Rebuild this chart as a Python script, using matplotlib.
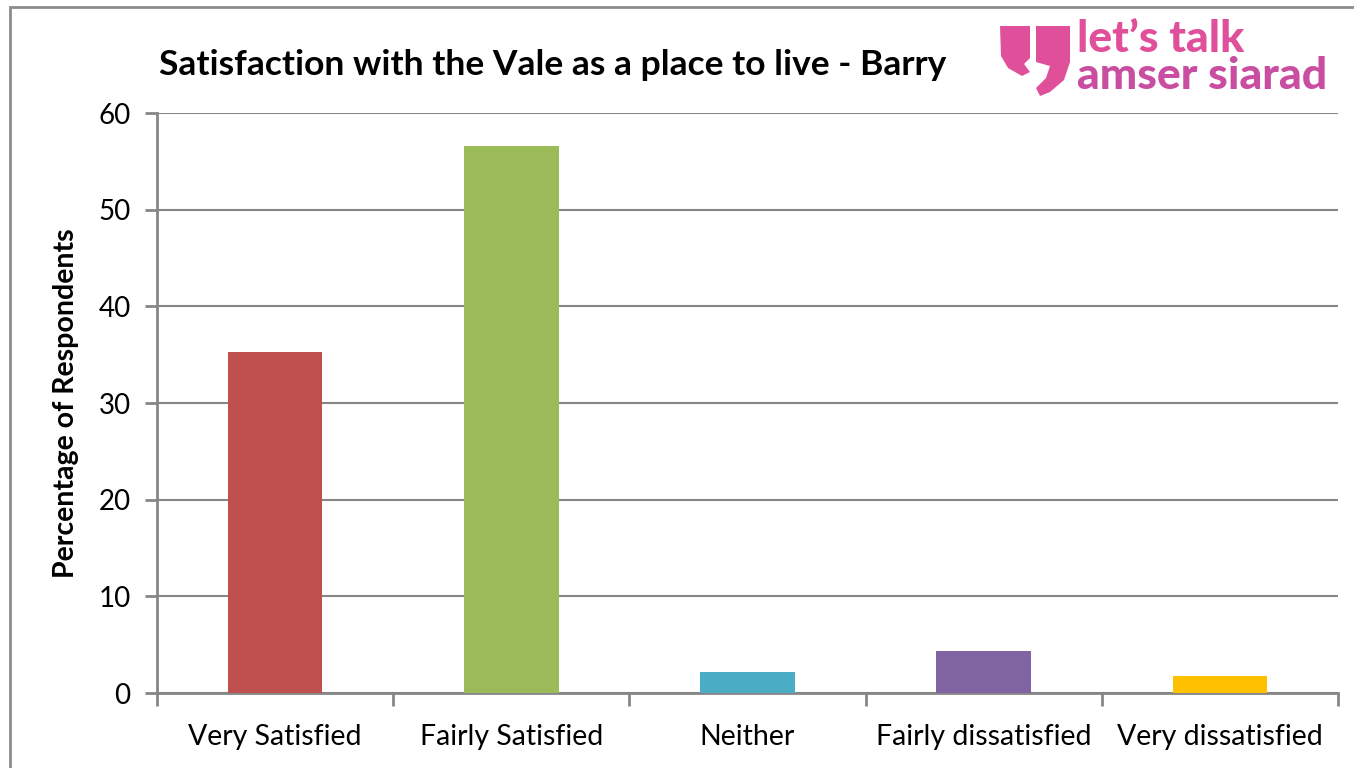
import matplotlib.pyplot as plt
from matplotlib.patches import Rectangle, Polygon

categories = ['Very Satisfied', 'Fairly Satisfied', 'Neither', 'Fairly dissatisfied', 'Very dissatisfied']
values = [35.3, 56.6, 2.2, 4.3, 1.8]
colors = ['#C0504D', '#9BBB59', '#4BACC6', '#8064A2', '#FFC000']

plt.rcParams['font.family'] = ['Lato', 'DejaVu Sans']

W, H = 1354, 768
fig = plt.figure(figsize=(W / 100, H / 100), dpi=100)
ax = fig.add_axes([157/W, 1 - 693/H, (1338-157)/W, (693-113)/H])

x = range(len(categories))
ax.bar(x, values, width=0.4, color=colors, zorder=3)

ax.set_xlim(-0.5, len(categories) - 0.5)
ax.set_ylim(0, 60)
ax.set_yticks(range(0, 61, 10))
ax.set_xticks(list(x))
ax.set_xticklabels(categories)
ax.set_xticks([i - 0.5 for i in range(len(categories) + 1)], minor=True)
ax.tick_params(axis='x', which='major', length=0, pad=22, labelsize=20.5)
ax.tick_params(axis='x', which='minor', length=9, width=2, color='#868686')
ax.tick_params(axis='y', length=9, width=2, color='#868686', labelsize=20, pad=10)
ax.grid(axis='y', color='#868686', linewidth=1.5, zorder=0)
for s in ['top', 'right']:
    ax.spines[s].set_visible(False)
for s in ['left', 'bottom']:
    ax.spines[s].set_color('#868686')
    ax.spines[s].set_linewidth(2)

ax.set_ylabel('Percentage of Respondents', fontsize=20.5, fontweight='bold', labelpad=14)

fig.text(553/W, 1 - 65/H, 'Satisfaction with the Vale as a place to live - Barry',
         ha='center', va='center', fontsize=25.5, fontweight='bold')

# outer chart border
fig.patches.append(Rectangle((10/W, -0.01), 1.1, 1 - 7/H + 0.01, transform=fig.transFigure,
                             fill=False, edgecolor='#8c8c8c', linewidth=2))

# logo
fig.text(1077/W, 1 - 39/H, "let\u2019s talk", ha='left', va='center', fontsize=32,
         fontweight='black', color='#E0509A')
fig.text(1077/W, 1 - 76/H, "amser siarad", ha='left', va='center', fontsize=32,
         fontweight='black', color='#C94DA0')

def px(pts):
    return [(a / W, 1 - b / H) for a, b in pts]

left_q = px([(1000, 26), (1030, 26), (1030, 58), (1024, 64), (1030, 72), (1022, 76),
             (1008, 68), (1001, 56)])
right_q = px([(1036, 26), (1070, 26), (1070, 62), (1064, 80), (1050, 92), (1040, 96),
              (1036, 88), (1046, 78), (1050, 66), (1036, 62)])
for poly in (left_q, right_q):
    fig.patches.append(Polygon(poly, closed=True, transform=fig.transFigure,
                               facecolor='#E0509A', edgecolor='none'))

fig.savefig('out.png', dpi=100)
